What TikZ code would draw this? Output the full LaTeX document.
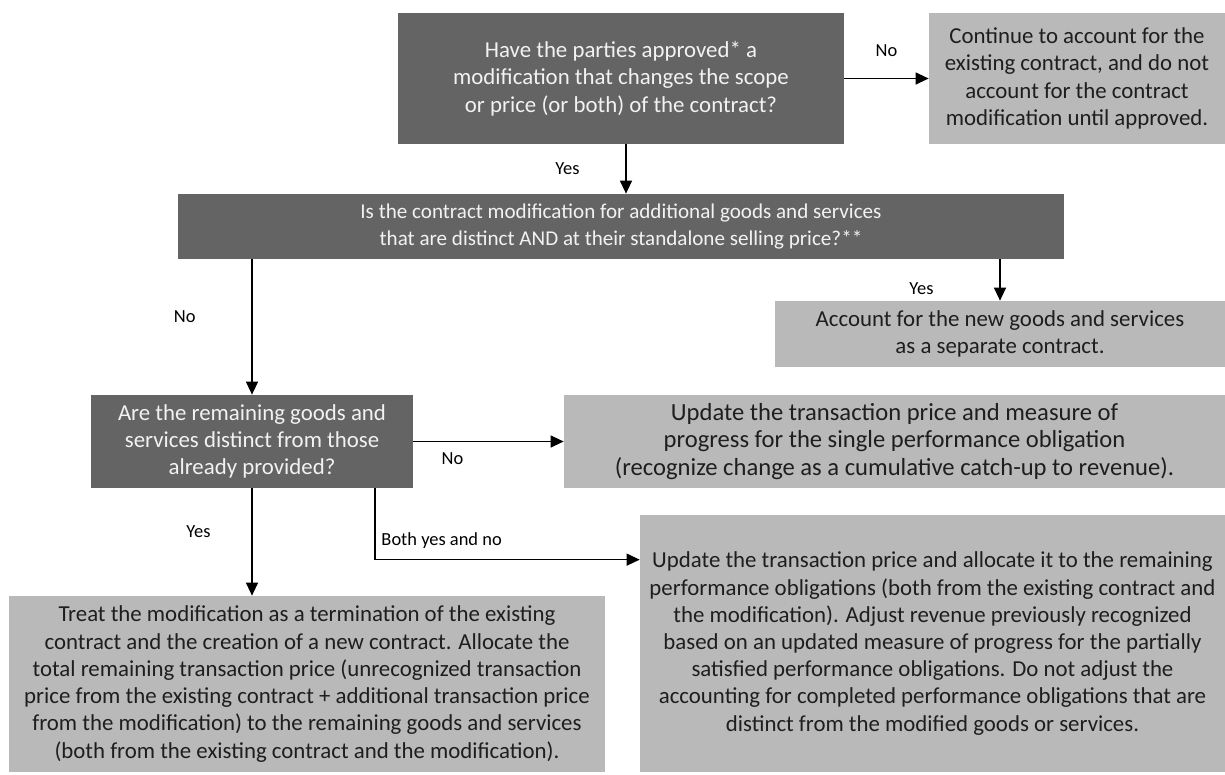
\documentclass[tikz,border=0pt]{standalone}
\usepackage{fontspec}
\setmainfont{Carlito}
\usetikzlibrary{positioning,arrows.meta}
\definecolor{darkbox}{HTML}{646464}
\definecolor{lightbox}{HTML}{B9B9B9}
\definecolor{qtext}{HTML}{F2F2F2}
\definecolor{atext}{HTML}{1E1E1E}

\begin{document}
\begin{tikzpicture}[
  question/.style={rectangle, fill=darkbox, text=qtext, align=center, inner sep=0pt,
    font=\fontsize{13}{15.5}\selectfont},
  answer/.style={rectangle, fill=lightbox, text=atext, align=center, inner sep=0pt,
    font=\fontsize{13}{15.5}\selectfont},
  arr/.style={-{Triangle[length=0.26cm,width=0.24cm]}, line width=0.7pt},
  lbl/.style={font=\fontsize{10.5}{12}\selectfont, text=black}
]
\useasboundingbox (0,0) rectangle (24.5,-15.5);
% questions
\node[question, minimum width=8.92cm, minimum height=2.62cm] (q1) at (12.42,-1.57)
  {Have the parties approved* a\\modification that changes the scope\\or price (or both) of the contract?};
\node[question, minimum width=17.72cm, minimum height=1.3cm, font=\fontsize{12}{15.5}\selectfont] (q2) at (12.42,-4.53)
  {Is the contract modification for additional goods and services\\that are distinct AND at their standalone selling price?**};
\node[question, minimum width=6.44cm, minimum height=1.86cm] (q3) at (5.04,-8.83)
  {Are the remaining goods and\\services distinct from those\\already provided?};
% outcomes
\node[answer, minimum width=5.92cm, minimum height=2.62cm] (cont) at (21.54,-1.57)
  {Continue to account for the\\existing contract, and do not\\account for the contract\\modification until approved.};
\node[answer, minimum width=9cm, minimum height=1.32cm] (sep) at (20,-6.68)
  {Account for the new goods and services\\as a separate contract.};
\node[answer, minimum width=13.22cm, minimum height=1.86cm, font=\fontsize{14}{15.5}\selectfont] (single) at (17.89,-8.83)
  {Update the transaction price and measure of\\progress for the single performance obligation\\(recognize change as a cumulative catch-up to revenue).};
\node[answer, minimum width=11.92cm, minimum height=3.52cm] (term) at (6.14,-13.68)
  {Treat the modification as a termination of the existing\\contract and the creation of a new contract. Allocate the\\total remaining transaction price (unrecognized transaction\\price from the existing contract + additional transaction price\\from the modification) to the remaining goods and services\\(both from the existing contract and the modification).};
\node[answer, minimum width=11.7cm, minimum height=5.14cm] (both) at (18.65,-12.87)
  {Update the transaction price and allocate it to the remaining\\performance obligations (both from the existing contract and\\the modification). Adjust revenue previously recognized\\based on an updated measure of progress for the partially\\satisfied performance obligations. Do not adjust the\\accounting for completed performance obligations that are\\distinct from the modified goods or services.};
% connectors
\draw[arr] (q1.east) -- (cont.west) node[lbl, midway, above=0.3cm] {No};
\draw[arr] ([xshift=0.1cm]q1.south) -- ([xshift=0.1cm]q1.south |- q2.north) node[lbl, midway, left=0.8cm] {Yes};
\draw[arr] (q2.south -| sep.north) -- (sep.north) node[lbl, pos=0.7, left=1.2cm] {Yes};
\draw[arr] (q2.south -| q3.north) -- (q3.north) node[lbl, pos=0.42, left=1cm] {No};
\draw[arr] (q3.east) -- (single.west) node[lbl, pos=0.26, below=0.1cm] {No};
\draw[arr] (q3.south) -- (q3.south |- term.north) node[lbl, pos=0.4, left=0.7cm] {Yes};
\draw[arr] ([xshift=2.46cm]q3.south) |- ([yshift=-0.9cm]both.north west)
  node[lbl, pos=0.5, above right=0.1cm and 0cm] {Both yes and no};
\end{tikzpicture}
\end{document}
